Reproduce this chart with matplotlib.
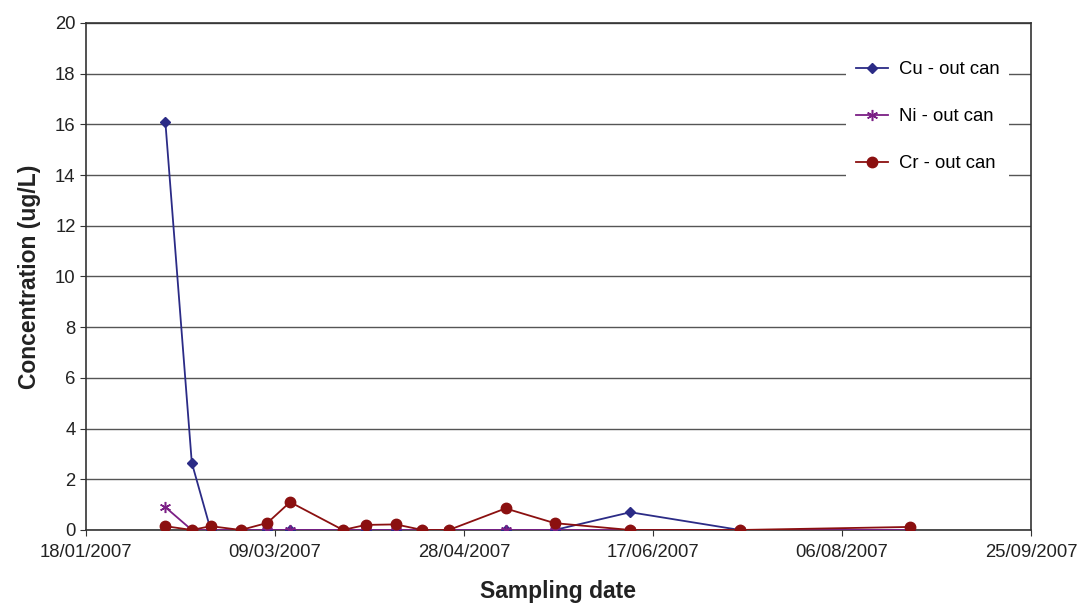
from datetime import datetime
import matplotlib
matplotlib.use('Agg')
import matplotlib.pyplot as plt
import matplotlib.dates as mdates

plt.rcParams['font.family'] = ['Liberation Sans', 'DejaVu Sans']

# sampling dates
dates = ['08/02/2007', '15/02/2007', '20/02/2007', '28/02/2007', '07/03/2007',
         '13/03/2007', '27/03/2007', '02/04/2007', '10/04/2007', '17/04/2007',
         '24/04/2007', '09/05/2007', '22/05/2007', '11/06/2007', '10/07/2007',
         '24/08/2007']
cu = [16.1, 2.65, 0, 0, 0, 0, 0, 0, 0, 0, 0, 0, 0, 0.7, 0, 0]
ni = [0.9, 0, 0, 0, 0, 0, 0, 0, 0, 0, 0, 0, 0, 0, 0, 0]
cr = [0.15, 0, 0.15, 0, 0.28, 1.1, 0, 0.2, 0.22, 0, 0, 0.85, 0.27, 0, 0, 0.12]

xticks = ['18/01/2007', '09/03/2007', '28/04/2007', '17/06/2007', '06/08/2007', '25/09/2007']


def todate(s):
    return datetime.strptime(s, '%d/%m/%Y')


x = [todate(d) for d in dates]
xt = [todate(d) for d in xticks]

fig = plt.figure(figsize=(10.8, 6.05), dpi=100)
ax = fig.add_axes([0.0796, 0.124, 0.875, 0.838])

ax.plot(x, cu, '-', color='#2b2b86', marker='D', markersize=5, lw=1.3,
        label='Cu - out can', zorder=3)
ax.plot(x, ni, '-', color='#7b1f85', marker=(6, 2, 0), markersize=8, mew=1.1,
        lw=1.3, label='Ni - out can', zorder=4)
ax.plot(x, cr, '-', color='#8b1010', marker='o', markersize=7.5, lw=1.3,
        label='Cr - out can', zorder=5)

ax.set_xlim(xt[0], xt[-1])
ax.set_ylim(0, 20)
ax.set_xticks(xt)
ax.xaxis.set_major_formatter(mdates.DateFormatter('%d/%m/%Y'))
ax.set_yticks(range(0, 21, 2))
ax.yaxis.grid(True, color='#555555', lw=1)
ax.set_axisbelow(True)
for sp in ax.spines.values():
    sp.set_color('#333333')
    sp.set_linewidth(1.2)
ax.tick_params(labelsize=13.3, direction='out', length=4, color='#333333',
               labelcolor='#222222')
ax.tick_params(axis='x', pad=6)

ax.set_xlabel('Sampling date', fontsize=16.5, fontweight='bold', labelpad=14,
              color='#222222')
ax.set_ylabel('Concentration (ug/L)', fontsize=16.5, fontweight='bold', labelpad=10,
              color='#222222')

leg = ax.legend(loc='upper left', bbox_to_anchor=(846 / 1080, 1 - 51 / 605),
                bbox_transform=fig.transFigure, frameon=True, fontsize=13.3,
                labelspacing=1.62, handlelength=1.7, handletextpad=0.6,
                borderpad=0.55, borderaxespad=0)
leg.get_frame().set_edgecolor('none')
leg.get_frame().set_facecolor('white')
leg.get_frame().set_alpha(1)
leg.get_frame().set_boxstyle('square', pad=0)

fig.savefig('out.png', dpi=100)
